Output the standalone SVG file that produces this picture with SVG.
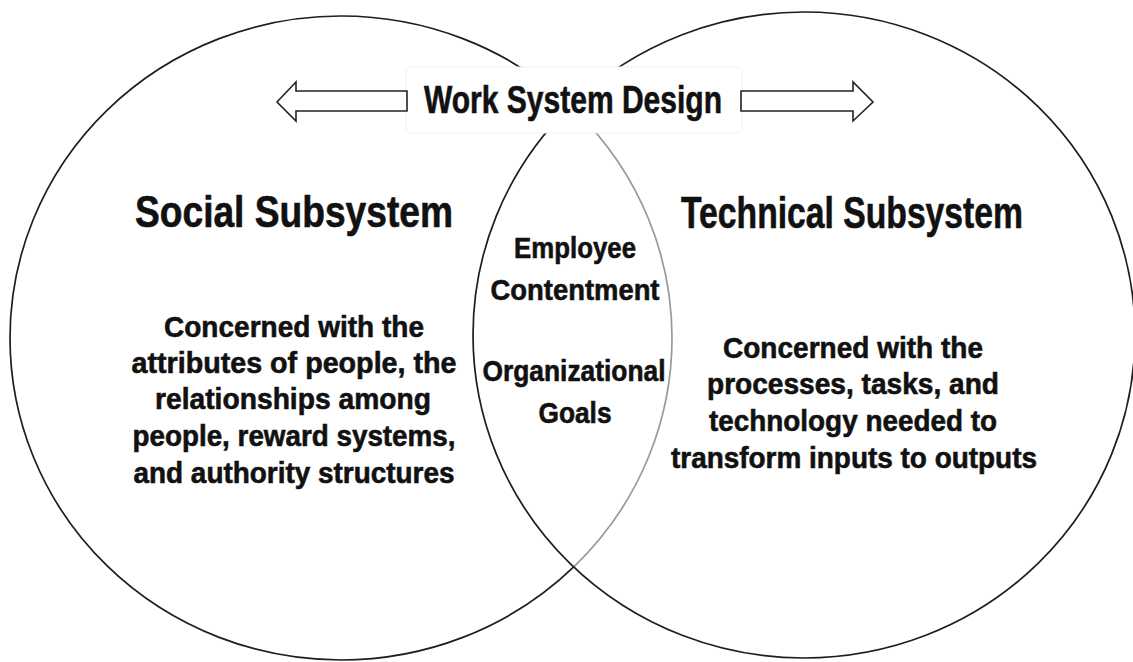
<svg xmlns="http://www.w3.org/2000/svg" width="1133" height="662" viewBox="0 0 1133 662">
  <style>
    .ring { stroke: #1e1e1e; stroke-width: 1.7; }
    .t { font-family: "Liberation Sans Narrow", "Liberation Sans", Arial, sans-serif; font-weight: bold; fill: #111; stroke: #111; stroke-width: 0.6; text-anchor: middle; }
    .head { font-size: 44px; }
    .title { font-size: 38px; }
    .mid { font-size: 30px; }
    .body { font-size: 30px; }
    .arrow { fill: #fff; stroke: #222; stroke-width: 1.6; stroke-linejoin: miter; }
  </style>
  <rect width="1133" height="662" fill="#fff"/>

  <!-- the two overlapping subsystem circles -->
  <g id="social-circle">
    <ellipse class="ring" cx="341" cy="338" rx="331" ry="322" fill="#fff"/>
  </g>
  <g id="technical-circle">
    <ellipse class="ring" cx="804" cy="335" rx="331" ry="323" fill="#fff" fill-opacity="0.55"/>
  </g>

  <!-- title banner with its two block arrows -->
  <g id="work-system-design">
    <rect x="406" y="67" width="336" height="66" rx="5" fill="#fff" stroke="#f0f0f0" stroke-width="1"/>
    <text class="t title" x="573" y="113" textLength="298" lengthAdjust="spacingAndGlyphs">Work System Design</text>
  </g>
  <g id="connectors">
    <polygon class="arrow" points="277,102 296,82 296,91 407,91 407,111 296,111 296,121"/>
    <polygon class="arrow" points="741,91 853,91 853,82 873,102 853,121 853,111 741,111"/>
  </g>

  <g id="social-subsystem">
    <text class="t head" x="294" y="227" textLength="318" lengthAdjust="spacingAndGlyphs">Social Subsystem</text>
    <text class="t body" x="294" y="337" textLength="260" lengthAdjust="spacingAndGlyphs">Concerned with the</text>
    <text class="t body" x="294" y="373" textLength="325" lengthAdjust="spacingAndGlyphs">attributes of people, the</text>
    <text class="t body" x="293" y="409" textLength="276" lengthAdjust="spacingAndGlyphs">relationships among</text>
    <text class="t body" x="294" y="446" textLength="323" lengthAdjust="spacingAndGlyphs">people, reward systems,</text>
    <text class="t body" x="294" y="483" textLength="321" lengthAdjust="spacingAndGlyphs">and authority structures</text>
  </g>

  <g id="technical-subsystem">
    <text class="t head" x="852" y="228" textLength="342" lengthAdjust="spacingAndGlyphs">Technical Subsystem</text>
    <text class="t body" x="853" y="358" textLength="260" lengthAdjust="spacingAndGlyphs">Concerned with the</text>
    <text class="t body" x="853" y="394" textLength="292" lengthAdjust="spacingAndGlyphs">processes, tasks, and</text>
    <text class="t body" x="853" y="431" textLength="288" lengthAdjust="spacingAndGlyphs">technology needed to</text>
    <text class="t body" x="854" y="468" textLength="366" lengthAdjust="spacingAndGlyphs">transform inputs to outputs</text>
  </g>

  <g id="shared-outcomes">
    <text class="t mid" x="575" y="258" textLength="122" lengthAdjust="spacingAndGlyphs">Employee</text>
    <text class="t mid" x="575" y="300" textLength="169" lengthAdjust="spacingAndGlyphs">Contentment</text>
    <text class="t mid" x="574" y="381" textLength="183" lengthAdjust="spacingAndGlyphs">Organizational</text>
    <text class="t mid" x="575" y="423" textLength="73" lengthAdjust="spacingAndGlyphs">Goals</text>
  </g>
</svg>
